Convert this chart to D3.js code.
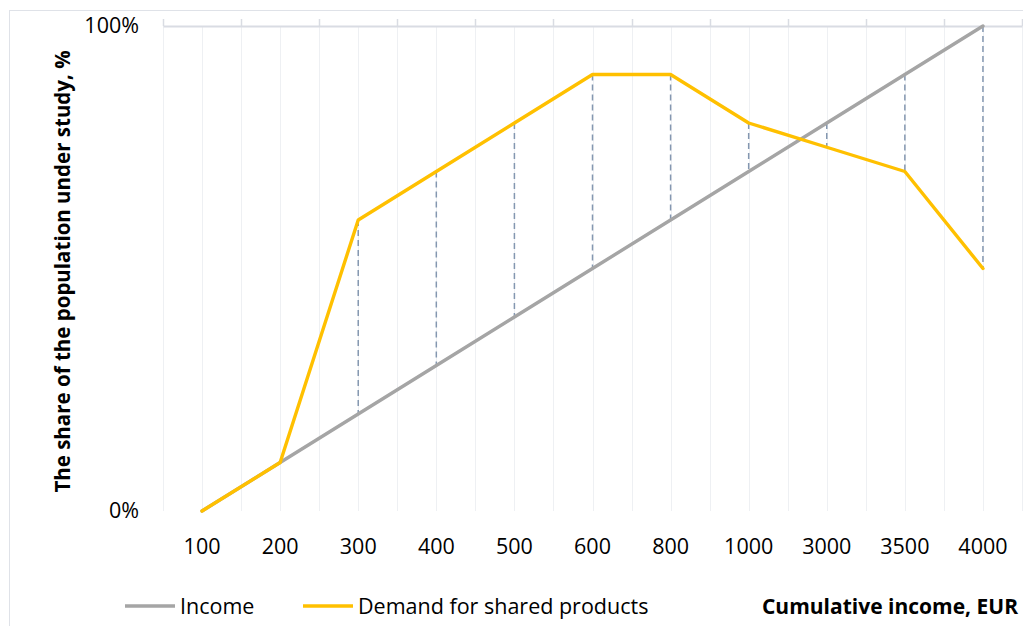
<!DOCTYPE html>
<html>
<head>
<meta charset="utf-8">
<script src="https://cdn.jsdelivr.net/npm/d3@7"></script>
<style>
  html, body { margin: 0; padding: 0; background: #fff; }
  svg { display: block; font-family: "Open Sans", "Noto Sans", sans-serif; }
</style>
</head>
<body>
<svg id="chart" width="1023" height="626"></svg>
<script>
// Income brackets (category axis)
const categories = ["100", "200", "300", "400", "500", "600", "800", "1000", "3000", "3500", "4000"];
// Share of the population, %
const income = [0, 10, 20, 30, 40, 50, 60, 70, 80, 90, 100];
const demand = [0, 10, 60, 70, 80, 90, 90, 80, 75, 70, 50];
const yTicks = [0, 100];

const seriesList = [
  { name: "Income", values: income, color: "#a5a5a5" },
  { name: "Demand for shared products", values: demand, color: "#ffc000" }
];

const svg = d3.select("#chart");
const W = 1023, H = 626;
const plot = { left: 163, right: 1022, top: 26, bottom: 511 };

// Outer chart frame
svg.append("rect")
  .attr("x", 9.5).attr("y", 10.5)
  .attr("width", W + 20).attr("height", H + 20)
  .attr("fill", "none").attr("stroke", "#dfe2e8").attr("stroke-width", 1);

const x = d3.scaleBand().domain(categories).range([plot.left, plot.right]).padding(0);
const y = d3.scaleLinear().domain([0, 100]).range([plot.bottom, plot.top]);
const cx = c => x(c) + x.bandwidth() / 2;

// Vertical gridlines at category centres and boundaries
const gridX = [];
categories.forEach(c => { gridX.push(x(c)); gridX.push(cx(c)); });
gridX.push(plot.right);
svg.append("g").selectAll("line").data(gridX).join("line")
  .attr("x1", d => Math.round(d) + 0.5).attr("x2", d => Math.round(d) + 0.5)
  .attr("y1", plot.top).attr("y2", plot.bottom)
  .attr("stroke", "#eef0f3").attr("stroke-width", 1);

// Category axis line crossing at the maximum, ticks pointing outward
const axisTop = svg.append("g").attr("transform", `translate(0,${plot.top})`)
  .call(d3.axisTop(x).tickSize(0).tickFormat(""));
axisTop.select(".domain").attr("stroke", "#d9dce3").attr("stroke-width", 2);
const boundaries = categories.map(c => x(c)).concat([plot.right]);
axisTop.selectAll(".bound").data(boundaries).join("line").attr("class", "bound")
  .attr("x1", d => Math.round(d) + 0.5).attr("x2", d => Math.round(d) + 0.5)
  .attr("y1", 0).attr("y2", -7)
  .attr("stroke", "#d9dce3").attr("stroke-width", 1.5);

// Category labels, placed low
const axisLow = svg.append("g").attr("transform", `translate(0,${plot.bottom})`)
  .call(d3.axisBottom(x).tickSize(0).tickPadding(28));
axisLow.select(".domain").remove();
axisLow.selectAll("text")
  .attr("font-size", 21.5).attr("fill", "#000").attr("font-family", "Open Sans");

// Value axis labels
const yAxis = svg.append("g").attr("transform", `translate(${plot.left},0)`)
  .call(d3.axisLeft(y).tickValues(yTicks).tickSize(0).tickPadding(24).tickFormat(d => d + "%"));
yAxis.select(".domain").remove();
yAxis.selectAll("text")
  .attr("font-size", 21.5).attr("fill", "#000").attr("font-family", "Open Sans");

// High-low lines between the two series
svg.append("g").selectAll("line").data(categories).join("line")
  .attr("x1", c => cx(c)).attr("x2", c => cx(c))
  .attr("y1", (c, i) => y(Math.max(income[i], demand[i])))
  .attr("y2", (c, i) => y(Math.min(income[i], demand[i])))
  .attr("stroke", "#8497b0").attr("stroke-width", 1.5)
  .attr("stroke-dasharray", "6,4");

// Series lines
const line = d3.line().x((d, i) => cx(categories[i])).y(d => y(d));
svg.append("g").selectAll("path").data(seriesList).join("path")
  .attr("d", s => line(s.values))
  .attr("fill", "none")
  .attr("stroke", s => s.color)
  .attr("stroke-width", 3.4)
  .attr("stroke-linejoin", "round")
  .attr("stroke-linecap", "round");

// Axis titles
svg.append("text")
  .attr("transform", `translate(70,${(plot.top + plot.bottom) / 2 + 3}) rotate(-90)`)
  .attr("text-anchor", "middle")
  .attr("font-size", 20.5).attr("font-weight", "bold")
  .text("The share of the population under study, %");

svg.append("text")
  .attr("x", 1018).attr("y", 614)
  .attr("text-anchor", "end")
  .attr("font-size", 21).attr("font-weight", "bold")
  .text("Cumulative income, EUR");

// Legend
const legendPos = [125, 303];
const legend = svg.append("g").selectAll("g").data(seriesList).join("g")
  .attr("transform", (s, i) => `translate(${legendPos[i]},606)`);
legend.append("line")
  .attr("x1", 0).attr("x2", 50).attr("y1", 0).attr("y2", 0)
  .attr("stroke", s => s.color).attr("stroke-width", 3.4);
legend.append("text")
  .attr("x", 55).attr("y", 7.5)
  .attr("font-size", 21.5)
  .text(s => s.name);
</script>
</body>
</html>
